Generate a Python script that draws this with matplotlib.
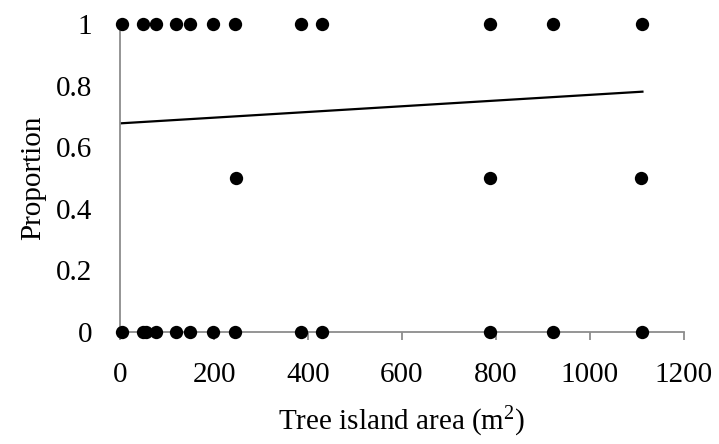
import numpy as np
import matplotlib
matplotlib.use('Agg')
import matplotlib.pyplot as plt

# observed proportions per tree island
area_top = [5, 48, 77, 119, 149, 197, 245, 386, 429, 787, 921, 1111]
prop_top = [1] * len(area_top)
area_mid = [247, 787, 1110]
prop_mid = [0.5] * len(area_mid)
area_bot = [5, 48, 55, 77, 119, 149, 197, 245, 386, 429, 787, 921, 1111]
prop_bot = [0] * len(area_bot)

# linear trendline ends
trend_x = [0, 1112]
trend_y = [0.677, 0.78]

xticks = [0, 200, 400, 600, 800, 1000, 1200]
yticks = [0, 0.2, 0.4, 0.6, 0.8, 1]
ytick_labels = ['0', '0.2', '0.4', '0.6', '0.8', '1']

plt.rcParams['font.family'] = ['Liberation Serif', 'DejaVu Serif']
plt.rcParams['font.size'] = 21
plt.rcParams['mathtext.fontset'] = 'custom'
plt.rcParams['mathtext.rm'] = 'Liberation Serif'
plt.rcParams['mathtext.it'] = 'Liberation Serif:italic'
plt.rcParams['mathtext.default'] = 'rm'

fig = plt.figure(figsize=(7.19, 4.44), dpi=100)
ax = fig.add_axes([0.167, 0.253, 0.784, 0.693])

x = area_top + area_mid + area_bot
y = prop_top + prop_mid + prop_bot
ax.scatter(x, y, s=92, color='black', zorder=3, clip_on=False, linewidths=0)
ax.plot(trend_x, trend_y, color='black', lw=1.6, zorder=2)

ax.set_xlim(0, 1200)
ax.set_ylim(0, 1)
ax.set_xticks(xticks)
ax.set_yticks(yticks)
ax.set_yticklabels(ytick_labels)

for s in ['top', 'right']:
    ax.spines[s].set_visible(False)
for s in ['left', 'bottom']:
    ax.spines[s].set_color('#8c8c8c')
    ax.spines[s].set_linewidth(1.3)
ax.tick_params(axis='x', direction='out', length=6, width=1.3, color='#8c8c8c', pad=16)
ax.tick_params(axis='y', length=0, pad=20)

ax.set_xlabel('Tree island area (m$^2$)', labelpad=12)
ax.set_ylabel('Proportion', labelpad=7)

fig.savefig('out.png', dpi=100)
